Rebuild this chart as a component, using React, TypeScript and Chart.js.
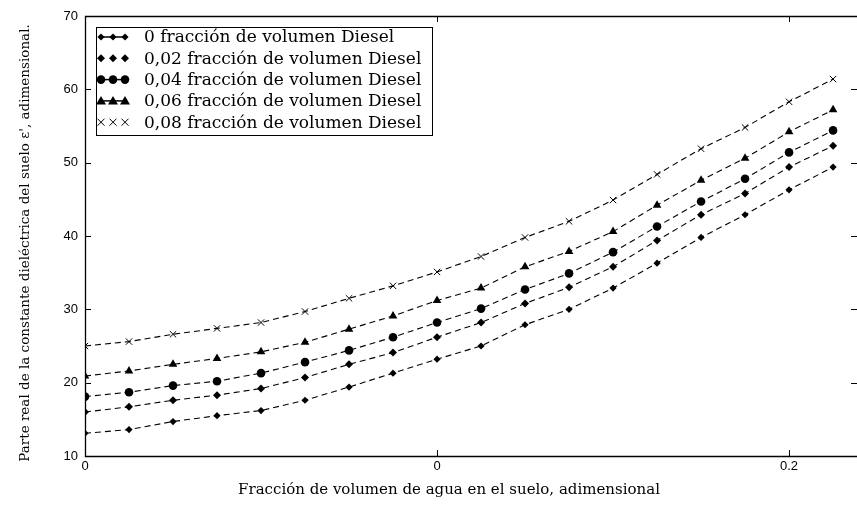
import React, { useEffect, useRef } from 'react';
import { Chart, registerables } from 'chart.js';

Chart.register(...registerables);

// Fracción de volumen de agua (x)
const xValues = [
  0, 0.0125, 0.025, 0.0375, 0.05, 0.0625, 0.075, 0.0875, 0.1,
  0.1125, 0.125, 0.1375, 0.15, 0.1625, 0.175, 0.1875, 0.2, 0.2125,
];

// Series values (ε')
const diesel000 = [13.1, 13.6, 14.7, 15.5, 16.2, 17.6, 19.4, 21.3, 23.2, 25.0, 27.9, 30.0, 32.9, 36.3, 39.8, 42.9, 46.3, 49.4];
const diesel002 = [16.0, 16.7, 17.6, 18.3, 19.2, 20.7, 22.5, 24.1, 26.2, 28.2, 30.8, 33.0, 35.8, 39.4, 42.9, 45.8, 49.4, 52.3];
const diesel004 = [18.1, 18.7, 19.6, 20.2, 21.3, 22.8, 24.4, 26.2, 28.2, 30.1, 32.7, 34.9, 37.8, 41.3, 44.7, 47.8, 51.4, 54.4];
const diesel006 = [20.9, 21.6, 22.5, 23.3, 24.2, 25.5, 27.3, 29.1, 31.2, 32.9, 35.8, 37.9, 40.6, 44.2, 47.6, 50.6, 54.2, 57.2];
const diesel008 = [25.0, 25.6, 26.6, 27.4, 28.2, 29.7, 31.5, 33.2, 35.1, 37.2, 39.8, 42.0, 44.9, 48.4, 51.9, 54.8, 58.3, 61.4];

const seriesLabels = [
  '0 fracción de volumen Diesel',
  '0,02 fracción de volumen Diesel',
  '0,04 fracción de volumen Diesel',
  '0,06 fracción de volumen Diesel',
  '0,08 fracción de volumen Diesel',
];

const yTickValues = [10, 20, 30, 40, 50, 60, 70];
const xTickValues = [0, 0.1, 0.2];
const xTickLabels = ['0', '0', '0.2'];

const xTitle = 'Fracción de volumen de agua en el suelo, adimensional';
const yTitle = "Parte real de la constante dieléctrica del suelo ε', adimensional.";

type MarkerKind = 'diamondSmall' | 'diamond' | 'circle' | 'triangle' | 'cross';
const markerKinds: MarkerKind[] = ['diamondSmall', 'diamond', 'circle', 'triangle', 'cross'];
const legendJoined = [true, false, true, true, false];

function drawMarker(ctx: CanvasRenderingContext2D, kind: MarkerKind, x: number, y: number) {
  ctx.save();
  ctx.fillStyle = '#000';
  ctx.strokeStyle = '#000';
  ctx.lineWidth = 1;
  ctx.setLineDash([]);
  ctx.beginPath();
  if (kind === 'diamondSmall' || kind === 'diamond') {
    const r = kind === 'diamond' ? 4 : 3.6;
    ctx.moveTo(x, y - r);
    ctx.lineTo(x + r, y);
    ctx.lineTo(x, y + r);
    ctx.lineTo(x - r, y);
    ctx.closePath();
    ctx.fill();
  } else if (kind === 'circle') {
    ctx.arc(x, y, 4.3, 0, Math.PI * 2);
    ctx.fill();
  } else if (kind === 'triangle') {
    const r = 5;
    ctx.moveTo(x, y - r);
    ctx.lineTo(x + r, y + r * 0.7);
    ctx.lineTo(x - r, y + r * 0.7);
    ctx.closePath();
    ctx.fill();
  } else {
    const r = 3.5;
    ctx.moveTo(x - r, y - r);
    ctx.lineTo(x + r, y + r);
    ctx.moveTo(x + r, y - r);
    ctx.lineTo(x - r, y + r);
    ctx.stroke();
  }
  ctx.restore();
}

const chartStylePoint: Record<MarkerKind, any> = {
  diamondSmall: { pointStyle: 'rectRot', pointRadius: 3.6, pointBorderWidth: 0 },
  diamond: { pointStyle: 'rectRot', pointRadius: 4, pointBorderWidth: 0 },
  circle: { pointStyle: 'circle', pointRadius: 4.3, pointBorderWidth: 0 },
  triangle: { pointStyle: 'triangle', pointRadius: 5, pointBorderWidth: 0 },
  cross: { pointStyle: 'crossRot', pointRadius: 4.5, pointBorderWidth: 1 },
};

const framePlugin = {
  id: 'framePlugin',
  afterDraw(chart: any) {
    const { ctx, chartArea: a, scales } = chart;
    const xs = scales.x;
    const ys = scales.y;
    const W = chart.width;
    ctx.save();
    ctx.strokeStyle = '#000';
    ctx.lineWidth = 1.3;
    ctx.setLineDash([]);
    ctx.beginPath();
    ctx.moveTo(W, a.top + 0.5);
    ctx.lineTo(a.left + 0.5, a.top + 0.5);
    ctx.lineTo(a.left + 0.5, a.bottom + 0.5);
    ctx.lineTo(W, a.bottom + 0.5);
    ctx.stroke();
    ctx.lineWidth = 1;
    ctx.beginPath();
    for (const v of xTickValues) {
      const px = Math.round(xs.getPixelForValue(v)) + 0.5;
      ctx.moveTo(px, a.bottom);
      ctx.lineTo(px, a.bottom - 6);
      ctx.moveTo(px, a.top);
      ctx.lineTo(px, a.top + 6);
    }
    for (const v of yTickValues) {
      const py = Math.round(ys.getPixelForValue(v)) + 0.5;
      ctx.moveTo(a.left, py);
      ctx.lineTo(a.left + 6, py);
      ctx.moveTo(W, py);
      ctx.lineTo(W - 6, py);
    }
    ctx.stroke();

    // Legend
    const bx = a.left + 11;
    const by = a.top + 11;
    const bw = 336;
    const bh = 108;
    ctx.fillStyle = '#fff';
    ctx.fillRect(bx, by, bw, bh);
    ctx.lineWidth = 1;
    ctx.strokeRect(bx + 0.5, by + 0.5, bw, bh);
    ctx.font = '17px "DejaVu Serif"';
    ctx.fillStyle = '#000';
    ctx.textBaseline = 'middle';
    ctx.textAlign = 'left';
    for (let i = 0; i < seriesLabels.length; i++) {
      const ry = by + 10 + i * 21.3;
      if (legendJoined[i]) {
        ctx.beginPath();
        ctx.lineWidth = 1.5;
        ctx.moveTo(bx + 4, ry);
        ctx.lineTo(bx + 30, ry);
        ctx.stroke();
      }
      for (let k = 0; k < 3; k++) {
        drawMarker(ctx, markerKinds[i], bx + 5 + k * 12, ry);
      }
      ctx.fillText(seriesLabels[i], bx + 48, ry + 1);
    }

    // Axis titles
    ctx.font = '15px "DejaVu Serif"';
    ctx.textAlign = 'center';
    ctx.textBaseline = 'middle';
    ctx.fillText(xTitle, 449, 490);
    ctx.save();
    ctx.translate(25, 243);
    ctx.rotate(-Math.PI / 2);
    ctx.font = '13.5px "DejaVu Serif"';
    ctx.fillText(yTitle, 0, 0);
    ctx.restore();
    ctx.restore();
  },
};

export default function App() {
  const canvasRef = useRef<HTMLCanvasElement | null>(null);

  useEffect(() => {
    if (!canvasRef.current) return;
    const all = [diesel000, diesel002, diesel004, diesel006, diesel008];
    const datasets = all.map((s, i) => ({
      label: seriesLabels[i],
      data: xValues.map((x, j) => ({ x, y: s[j] })),
      borderColor: '#000',
      backgroundColor: '#000',
      pointBackgroundColor: '#000',
      pointBorderColor: '#000',
      borderWidth: 1.1,
      borderDash: [6, 4],
      tension: 0,
      fill: false,
      ...chartStylePoint[markerKinds[i]],
    }));

    const chart = new Chart(canvasRef.current, {
      type: 'line',
      data: { datasets },
      options: {
        responsive: false,
        animation: false,
        layout: { autoPadding: false, padding: { top: 16, right: 0, left: 0, bottom: 0 } },
        plugins: {
          legend: { display: false },
          tooltip: { enabled: false },
        },
        scales: {
          x: {
            type: 'linear',
            min: 0,
            max: 0.2193,
            afterFit: (scale: any) => { scale.height = 54; },
            afterBuildTicks: (scale: any) => {
              scale.ticks = xTickValues.map((v) => ({ value: v }));
            },
            grid: { display: false, drawTicks: false },
            border: { display: false },
            ticks: {
              padding: 3,
              color: '#000',
              font: { family: '"Liberation Sans"', size: 13 },
              maxRotation: 0,
              callback: (value: any) => {
                const idx = xTickValues.findIndex((v) => Math.abs(v - Number(value)) < 1e-9);
                return idx >= 0 ? xTickLabels[idx] : '';
              },
            },
          },
          y: {
            type: 'linear',
            min: 10,
            max: 70,
            afterFit: (scale: any) => { scale.width = 85; },
            afterBuildTicks: (scale: any) => {
              scale.ticks = yTickValues.map((v) => ({ value: v }));
            },
            grid: { display: false, drawTicks: false },
            border: { display: false },
            ticks: {
              padding: 7,
              color: '#000',
              font: { family: '"Liberation Sans"', size: 13 },
              callback: (value: any) => String(value),
            },
          },
        },
      },
      plugins: [framePlugin],
    } as any);

    return () => chart.destroy();
  }, []);

  return (
    <div style={{ position: 'absolute', left: 0, top: 0, width: 857, height: 510, background: '#fff' }}>
      <canvas ref={canvasRef} width={857} height={510} style={{ display: 'block' }} />
    </div>
  );
}
